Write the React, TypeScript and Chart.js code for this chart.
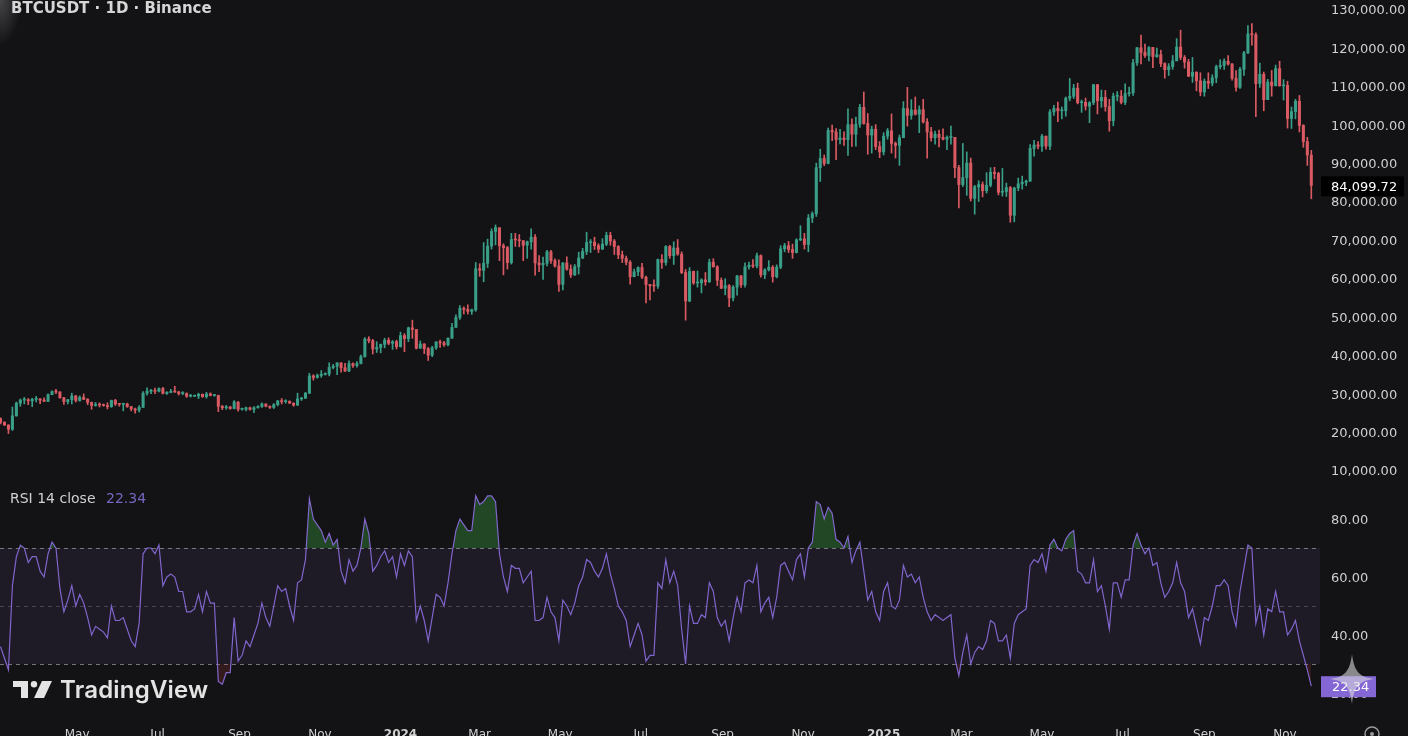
import React, { useEffect, useRef } from "react";
import { Chart, registerables } from "chart.js";

Chart.register(...registerables);

// Day 0 = 2023-03-01. One candle every 3 days (centre day = FIRST_DAY + i * STEP_DAYS).
const FIRST_DAY = 3;
const STEP_DAYS = 3;

// Prices in thousands of USDT
const opens = [
  23.4, 22.4, 21.7, 20.6, 24.1, 27.4, 28.2, 28.3, 28.0, 28.4,
  28.5, 28.2, 27.9, 29.6, 30.4, 30.3, 28.8, 27.8, 28.3, 29.3,
  28.1, 28.9, 28.4, 27.6, 26.8, 27.0, 26.9, 26.8, 26.5, 28.1,
  27.2, 27.1, 27.2, 26.5, 25.9, 25.6, 26.3, 30.0, 30.5, 30.7,
  30.5, 31.2, 29.9, 30.2, 30.4, 30.3, 29.9, 29.9, 29.2, 29.2,
  29.3, 29.7, 29.1, 29.8, 29.4, 29.4, 26.6, 26.2, 26.4, 26.0, 27.7,
  25.8, 25.8, 26.2, 25.8, 26.2, 26.5, 27.2, 26.6, 26.3, 27.0,
  28.0, 27.8, 27.9, 27.4, 26.9, 28.5, 28.7, 30.0, 34.5, 34.1,
  34.6, 34.9, 35.0, 36.7, 37.0, 37.9, 36.6, 35.8, 37.7, 37.2,
  37.7, 39.5, 44.1, 43.7, 41.5, 41.9, 42.7, 43.8, 43.0, 43.4,
  42.1, 45.0, 44.2, 47.0, 46.6, 41.7, 42.8, 41.6, 39.9, 41.8, 43.3,
  43.1, 42.6, 44.3, 47.1, 49.7, 52.1, 51.8, 51.3, 51.7,
  62.4, 62.0, 63.8, 68.3, 72.1, 73.1, 68.4, 67.9, 64.0, 70.0, 69.9,
  69.7, 68.5, 69.4, 70.6, 63.9, 63.4, 63.8, 66.8, 64.5, 63.1,
  58.3, 63.9, 62.3, 60.8, 62.9, 65.2, 66.9, 69.2, 69.3, 68.4,
  67.5, 68.8, 71.1, 69.6, 68.2, 66.0, 65.1, 64.1, 60.3, 61.6,
  62.7, 60.2, 58.3, 58.0, 57.9, 64.8, 64.0, 68.2, 65.8, 67.8,
  66.2, 61.4, 54.0, 61.7, 58.7, 58.7, 59.5, 59.0, 64.1, 62.9, 59.4,
  57.3, 58.0, 54.8, 57.6, 60.5, 58.2, 62.9, 63.3, 63.1, 65.8,
  60.8, 62.1, 62.8, 60.3, 62.8, 67.6, 68.4, 67.4, 66.6, 69.9,
  70.2, 68.7, 75.6, 76.7, 88.7, 91.1, 89.8, 98.4, 98.0, 96.0,
  96.4, 96.0, 99.9, 97.4, 100.0, 104.4, 100.2, 97.2, 98.7, 94.2,
  92.8, 96.9, 98.3, 95.0, 94.5, 96.5, 104.1, 102.3, 103.7, 102.6, 103.8,
  100.6, 98.0, 96.5, 97.4, 96.6, 96.1, 96.6, 96.6, 88.7,
  84.3, 86.1, 89.9, 80.7, 83.7, 84.3, 82.7, 84.1, 87.5, 87.2,
  82.3, 82.5, 83.5, 76.3, 83.4, 84.5, 84.9, 85.2, 93.7, 94.6,
  94.3, 96.9, 94.3, 103.2, 104.1, 103.5, 103.5, 106.8, 107.3, 109.4, 105.6,
  105.7, 104.7, 105.6, 110.3, 106.1, 107.0, 104.6, 100.9, 107.3, 107.3,
  105.7, 108.0, 108.2, 116.0, 119.9, 118.7, 117.9, 120.0, 117.6, 118.1,
  115.8, 114.2, 115.0, 116.5, 120.1, 117.4, 116.2, 112.5, 113.5, 111.3,
  108.4, 111.2, 110.7, 112.1, 115.0, 115.3, 116.4, 115.7, 112.0, 109.6,
  114.3, 118.6, 123.5, 123.3, 110.6, 113.0, 106.4, 111.0, 110.0, 114.5, 110.0,
  110.1, 101.5, 103.3, 106.0, 99.7, 95.5, 92.0,
];

const highs = [
  23.6, 22.6, 21.8, 26.4, 27.7, 28.5, 28.9, 28.6, 28.7, 29.2,
  28.6, 28.8, 29.8, 30.6, 31.0, 30.4, 28.9, 28.4, 30.0, 29.4,
  29.3, 29.8, 28.6, 27.7, 27.6, 27.5, 27.2, 27.5, 28.2, 28.4,
  27.3, 27.4, 27.4, 26.6, 26.1, 26.8, 30.4, 31.4, 31.0, 31.3,
  31.4, 31.5, 30.4, 31.0, 31.8, 30.5, 30.4, 30.1, 29.7, 29.5,
  30.0, 29.8, 30.2, 30.1, 29.7, 29.5, 26.8, 26.8, 26.6, 28.1, 27.8,
  26.1, 26.4, 26.4, 26.5, 26.8, 27.5, 27.2, 26.7, 27.3, 28.1,
  28.6, 28.3, 28.0, 27.5, 30.0, 28.9, 30.2, 35.2, 34.8, 35.0,
  35.9, 35.3, 37.9, 37.5, 37.9, 37.9, 37.8, 38.4, 37.9, 38.2,
  39.9, 44.5, 44.7, 44.0, 43.4, 42.8, 44.3, 44.4, 43.7, 43.8,
  45.9, 45.5, 47.2, 49.0, 46.5, 43.6, 42.9, 41.9, 42.2, 43.4, 43.8,
  43.5, 44.4, 48.2, 50.4, 52.8, 52.5, 53.0, 51.9, 64.0,
  63.7, 69.2, 70.1, 72.8, 73.8, 72.4, 68.9, 68.2, 71.6, 71.6, 71.3,
  69.7, 69.6, 72.8, 71.3, 65.8, 65.4, 67.2, 67.2, 65.0, 64.7,
  64.0, 65.5, 63.4, 63.5, 66.7, 67.7, 71.9, 70.0, 70.6, 68.9,
  70.2, 71.9, 71.9, 70.0, 68.4, 67.0, 65.7, 64.5, 62.3, 62.9,
  63.8, 60.5, 58.3, 59.5, 64.9, 66.1, 68.4, 68.5, 69.4, 70.0,
  66.8, 62.2, 62.7, 61.8, 61.8, 59.8, 61.4, 64.9, 65.0, 63.2, 60.0,
  59.8, 58.3, 58.0, 60.7, 60.7, 63.9, 64.1, 64.8, 66.5, 66.0,
  62.4, 64.5, 63.2, 63.4, 68.4, 69.0, 69.5, 68.8, 70.2, 73.6,
  71.6, 76.5, 77.2, 89.9, 93.5, 92.0, 99.0, 99.8, 98.9, 98.7,
  98.0, 104.0, 101.4, 101.9, 105.2, 108.4, 102.8, 99.5, 99.9, 95.5,
  97.8, 98.9, 102.7, 95.4, 97.2, 105.9, 109.6, 106.4, 107.1, 104.8, 106.5,
  101.5, 99.2, 98.2, 98.5, 98.8, 97.0, 99.5, 96.6, 89.3,
  95.0, 92.8, 91.2, 84.1, 85.3, 85.0, 87.4, 88.7, 88.8, 87.5,
  88.5, 84.7, 83.8, 83.6, 86.0, 86.5, 85.5, 94.7, 95.8, 95.5,
  97.4, 96.9, 103.8, 104.9, 105.8, 104.5, 107.1, 111.9, 110.4, 110.7, 106.3,
  106.8, 105.9, 110.4, 110.4, 108.9, 108.8, 106.5, 108.1, 108.5, 108.8,
  110.5, 109.7, 116.9, 120.0, 123.2, 120.9, 120.2, 120.0, 119.8, 119.3,
  116.0, 115.8, 117.9, 122.3, 124.5, 117.9, 116.9, 117.4, 113.7, 113.4,
  111.8, 113.4, 112.9, 115.4, 116.8, 117.0, 117.9, 115.8, 114.0, 114.8,
  119.0, 125.7, 126.2, 123.8, 115.9, 113.6, 111.7, 114.0, 115.4, 116.4, 111.6,
  111.2, 104.5, 106.5, 107.5, 99.9, 96.6, 93.2,
];

const lows = [
  22.0, 21.6, 19.5, 20.3, 24.0, 26.6, 27.2, 27.0, 26.5, 27.7,
  27.3, 27.8, 27.8, 29.6, 29.9, 28.7, 27.1, 27.2, 27.2, 27.7,
  27.9, 28.3, 27.0, 25.8, 26.6, 26.4, 26.6, 25.9, 26.3, 26.8,
  26.6, 25.4, 26.3, 25.4, 24.8, 25.1, 26.3, 29.5, 29.9, 29.9,
  30.3, 29.8, 29.7, 30.1, 30.2, 29.5, 29.6, 28.9, 29.0, 29.1,
  28.6, 28.9, 28.7, 29.3, 29.2, 25.2, 25.7, 25.8, 25.8, 25.9, 25.3,
  25.6, 25.4, 25.6, 24.9, 26.1, 26.3, 26.4, 26.0, 26.0, 26.7,
  27.2, 27.4, 27.3, 26.6, 26.8, 28.1, 28.6, 29.9, 33.4, 33.9,
  34.1, 34.7, 34.5, 36.3, 34.8, 35.5, 35.6, 35.6, 36.7, 36.8,
  37.6, 39.4, 43.1, 40.2, 40.6, 40.5, 41.8, 42.6, 41.4, 41.5,
  42.0, 40.8, 43.4, 44.3, 41.5, 41.7, 40.3, 38.5, 39.5, 41.4, 41.9,
  42.2, 42.3, 44.3, 47.7, 49.2, 50.6, 50.6, 50.5, 51.3,
  60.4, 59.0, 62.7, 67.5, 68.6, 64.5, 60.8, 62.3, 63.6, 68.2, 68.1,
  64.5, 65.1, 67.5, 60.7, 61.6, 59.6, 63.1, 63.8, 62.8, 56.5,
  56.9, 62.0, 60.1, 60.6, 61.0, 65.0, 66.1, 66.6, 67.4, 66.6,
  67.4, 68.4, 68.5, 66.1, 65.0, 64.0, 63.4, 58.4, 60.3, 60.6,
  59.8, 53.5, 54.3, 56.5, 57.3, 62.5, 63.3, 65.1, 63.5, 65.9,
  61.1, 49.0, 53.8, 58.3, 57.6, 56.1, 58.1, 58.8, 62.8, 58.0, 57.2,
  55.6, 52.5, 54.0, 55.5, 57.5, 57.6, 62.3, 62.7, 62.6, 60.2,
  59.8, 61.8, 58.9, 60.0, 62.4, 66.8, 66.6, 65.1, 66.5, 69.7,
  67.5, 66.8, 74.4, 76.0, 85.1, 89.2, 89.7, 95.7, 90.8, 94.9,
  94.5, 91.9, 94.2, 94.3, 99.2, 100.0, 92.2, 92.5, 93.4, 91.3,
  92.0, 96.1, 92.5, 91.2, 89.3, 96.5, 99.5, 101.3, 102.4, 97.8, 100.3,
  91.2, 95.6, 94.8, 94.1, 95.9, 93.4, 94.8, 86.1, 78.2,
  83.8, 81.5, 80.0, 76.6, 79.9, 81.1, 82.1, 83.7, 85.8, 81.6,
  81.3, 81.2, 74.5, 74.6, 82.7, 83.1, 84.0, 85.1, 91.7, 93.6,
  92.9, 93.5, 93.4, 102.3, 100.7, 101.4, 102.1, 106.1, 106.7, 105.3, 103.1,
  103.7, 100.4, 105.1, 102.7, 104.4, 103.4, 98.2, 99.6, 106.1, 105.3,
  105.1, 107.3, 107.5, 115.3, 115.7, 117.4, 116.5, 114.7, 117.4, 115.0,
  112.0, 112.7, 114.3, 116.5, 116.8, 114.6, 112.4, 110.9, 108.7, 107.4,
  107.3, 109.3, 110.0, 110.8, 114.4, 114.3, 115.4, 111.5, 108.6, 109.3,
  112.7, 118.4, 120.6, 102.0, 109.6, 103.5, 106.4, 107.3, 110.0, 109.9, 106.3,
  99.0, 98.9, 101.4, 98.0, 94.0, 89.3, 80.6,
];

const closes = [
  22.4, 21.7, 20.6, 24.1, 27.4, 28.2, 28.3, 28.0, 28.4, 28.5,
  28.2, 27.9, 29.6, 30.4, 30.3, 28.8, 27.8, 28.3, 29.3, 28.1,
  28.9, 28.4, 27.6, 26.8, 27.0, 26.9, 26.8, 26.5, 28.1, 27.2,
  27.1, 27.2, 26.5, 25.9, 25.6, 26.3, 30.0, 30.5, 30.7, 30.5,
  31.2, 29.9, 30.2, 30.4, 30.3, 29.9, 29.9, 29.2, 29.2, 29.3,
  29.7, 29.1, 29.8, 29.4, 29.4, 26.6, 26.2, 26.4, 26.0, 27.7, 25.8,
  25.8, 26.2, 25.8, 26.2, 26.5, 27.2, 26.6, 26.3, 27.0, 28.0,
  27.8, 27.9, 27.4, 26.9, 28.5, 28.7, 30.0, 34.5, 34.1, 34.6,
  34.9, 35.0, 36.7, 37.0, 37.9, 36.6, 35.8, 37.7, 37.2, 37.7,
  39.5, 44.1, 43.7, 41.5, 41.9, 42.7, 43.8, 43.0, 43.4, 42.1,
  45.0, 44.2, 47.0, 46.6, 41.7, 42.8, 41.6, 39.9, 41.8, 43.3, 43.1,
  42.6, 44.3, 47.1, 49.7, 52.1, 51.8, 51.3, 51.7, 62.4,
  62.0, 63.8, 68.3, 72.1, 73.1, 68.4, 67.9, 64.0, 70.0, 69.9, 69.7,
  68.5, 69.4, 70.6, 63.9, 63.4, 63.8, 66.8, 64.5, 63.1, 58.3,
  63.9, 62.3, 60.8, 62.9, 65.2, 66.9, 69.2, 69.3, 68.4, 67.5,
  68.8, 71.1, 69.6, 68.2, 66.0, 65.1, 64.1, 60.3, 61.6, 62.7,
  60.2, 58.3, 58.0, 57.9, 64.8, 64.0, 68.2, 65.8, 67.8, 66.2,
  61.4, 54.0, 61.7, 58.7, 58.7, 59.5, 59.0, 64.1, 62.9, 59.4, 57.3,
  58.0, 54.8, 57.6, 60.5, 58.2, 62.9, 63.3, 63.1, 65.8, 60.8,
  62.1, 62.8, 60.3, 62.8, 67.6, 68.4, 67.4, 66.6, 69.9, 70.2,
  68.7, 75.6, 76.7, 88.7, 91.1, 89.8, 98.4, 98.0, 96.0, 96.4,
  96.0, 99.9, 97.4, 100.0, 104.4, 100.2, 97.2, 98.7, 94.2, 92.8,
  96.9, 98.3, 95.0, 94.5, 96.5, 104.1, 102.3, 103.7, 102.6, 103.8, 100.6,
  98.0, 96.5, 97.4, 96.6, 96.1, 96.6, 96.6, 88.7, 84.3,
  86.1, 89.9, 80.7, 83.7, 84.3, 82.7, 84.1, 87.5, 87.2, 82.3,
  82.5, 83.5, 76.3, 83.4, 84.5, 84.9, 85.2, 93.7, 94.6, 94.3,
  96.9, 94.3, 103.2, 104.1, 103.5, 103.5, 106.8, 107.3, 109.4, 105.6, 105.7,
  104.7, 105.6, 110.3, 106.1, 107.0, 104.6, 100.9, 107.3, 107.3, 105.7,
  108.0, 108.2, 116.0, 119.9, 118.7, 117.9, 120.0, 117.6, 118.1, 115.8,
  114.2, 115.0, 116.5, 120.1, 117.4, 116.2, 112.5, 113.5, 111.3, 108.4,
  111.2, 110.7, 112.1, 115.0, 115.3, 116.4, 115.7, 112.0, 109.6, 114.3,
  118.6, 123.5, 123.3, 110.6, 113.0, 106.4, 111.0, 110.0, 114.5, 110.0, 110.1,
  101.5, 103.3, 106.0, 99.7, 95.5, 92.0, 84.09972,
];

const rsiValues = [
  36, 32, 28, 57, 67, 71, 70, 65, 67, 67,
  62, 60, 68, 72, 70, 56, 48, 52, 57, 50,
  54, 51, 46, 40, 43, 42, 41, 39, 50, 45,
  45, 46, 42, 38, 36, 44, 68, 70, 70, 68,
  71, 57, 60, 61, 60, 55, 55, 48, 48, 49,
  54, 48, 55, 51, 51, 24, 23, 27, 27, 46, 31,
  33, 38, 36, 40, 44, 51, 46, 43, 50, 57,
  55, 56, 50, 45, 58, 59, 66, 87, 80, 78,
  76, 72, 75, 71, 73, 62, 58, 66, 62, 64,
  70, 80, 75, 62, 64, 67, 69, 65, 67, 60,
  68, 64, 69, 67, 45, 50, 45, 38, 46, 54, 53,
  50, 58, 68, 76, 80, 78, 76, 76, 88,
  85, 86, 88, 88, 86, 68, 60, 55, 64, 63, 63,
  58, 60, 62, 45, 45, 46, 53, 48, 46, 38,
  52, 50, 47, 51, 57, 60, 66, 65, 62, 60,
  63, 68, 61, 56, 50, 48, 45, 36, 40, 44,
  40, 31, 33, 33, 58, 56, 66, 58, 62, 57,
  42, 30, 50, 44, 44, 47, 46, 58, 55, 46, 43,
  45, 38, 46, 53, 48, 58, 59, 58, 64, 48,
  51, 53, 46, 53, 64, 65, 62, 59, 66, 68,
  60, 70, 72, 86, 85, 80, 84, 82, 73, 72,
  70, 74, 65, 69, 72, 62, 52, 55, 48, 45,
  55, 58, 50, 49, 52, 64, 60, 61, 58, 60, 53,
  48, 45, 47, 46, 45, 46, 47, 32, 26,
  34, 40, 30, 34, 36, 35, 38, 45, 44, 38,
  38, 40, 32, 44, 47, 48, 49, 64, 66, 65,
  68, 62, 71, 73, 70, 69, 73, 75, 76, 62, 61,
  58, 58, 66, 55, 57, 50, 42, 58, 58, 53,
  59, 59, 71, 75, 71, 68, 70, 64, 65, 58,
  53, 55, 58, 65, 58, 55, 46, 49, 43, 37,
  46, 45, 50, 57, 57, 59, 57, 48, 43, 55,
  63, 71, 70, 44, 50, 40, 49, 48, 55, 48, 48,
  40, 42, 45, 38, 33, 28, 22.34,
];

// Month ticks (day index from 2023-03-01) and their labels
const tickDays = [61, 122, 184, 245, 306, 366, 427, 488, 550, 611, 672, 731, 792, 853, 915, 976];
const tickLabels = ["May", "Jul", "Sep", "Nov", "2024", "Mar", "May", "Jul", "Sep", "Nov", "2025", "Mar", "May", "Jul", "Sep", "Nov"];
const priceTicks = [10, 20, 30, 40, 50, 60, 70, 80, 90, 100, 110, 120, 130];
const rsiTicks = [20, 40, 60, 80];
const RSI_UPPER = 70;
const RSI_MID = 50;
const RSI_LOWER = 30;

const X_MIN = 2.6;
const X_MAX = 1002.6;
const PRICE_MIN = 6.1;
const PRICE_MAX = 132.343;
const RSI_MIN = 13.45;
const RSI_MAX = 91.72;

const BG = "#131315";
const UP = "#3a9f88";
const DOWN = "#d95a62";
const RSI_COLOR = "#8166cc";
const AXIS_TEXT = "#d0d0d0";
const AXIS_FONT = "DejaVu Sans";

const fmtPrice = (k: number) =>
  (k * 1000).toLocaleString("en-US", { minimumFractionDigits: 2, maximumFractionDigits: 2 });

const lastPricePlugin = {
  id: "lastPrice",
  afterDraw(chart: any) {
    const y = chart.scales.y.getPixelForValue(closes[closes.length - 1]);
    const ctx = chart.ctx;
    const left = chart.chartArea.right + 1;
    ctx.save();
    ctx.fillStyle = "#000000";
    ctx.fillRect(left, y - 9, 83, 20);
    ctx.fillStyle = "#ffffff";
    ctx.font = `13px "${AXIS_FONT}"`;
    ctx.textBaseline = "middle";
    ctx.textAlign = "left";
    ctx.fillText(fmtPrice(closes[closes.length - 1]), left + 10, y + 2);
    ctx.restore();
  },
};

const rsiBandPlugin = {
  id: "rsiBand",
  beforeDatasetsDraw(chart: any) {
    const { ctx, chartArea } = chart;
    const ys = chart.scales.y;
    const yU = ys.getPixelForValue(RSI_UPPER);
    const yL = ys.getPixelForValue(RSI_LOWER);
    const yM = ys.getPixelForValue(RSI_MID);
    ctx.save();
    ctx.fillStyle = "rgba(126,87,194,0.10)";
    ctx.fillRect(chartArea.left, yU, chartArea.right - chartArea.left, yL - yU);
    ctx.lineWidth = 1;
    ctx.setLineDash([4, 4]);
    ctx.strokeStyle = "rgba(150,150,160,0.75)";
    for (const y of [yU, yL]) {
      ctx.beginPath();
      ctx.moveTo(chartArea.left, Math.round(y) + 0.5);
      ctx.lineTo(chartArea.right, Math.round(y) + 0.5);
      ctx.stroke();
    }
    ctx.strokeStyle = "rgba(120,120,130,0.45)";
    ctx.beginPath();
    ctx.moveTo(chartArea.left, Math.round(yM) + 0.5);
    ctx.lineTo(chartArea.right, Math.round(yM) + 0.5);
    ctx.stroke();
    ctx.restore();
  },
  afterDraw(chart: any) {
    const v = rsiValues[rsiValues.length - 1];
    const y = chart.scales.y.getPixelForValue(v);
    const ctx = chart.ctx;
    const left = chart.chartArea.right + 1;
    ctx.save();
    ctx.fillStyle = "#8466d4";
    ctx.fillRect(left, y - 10, 55, 21);
    ctx.fillStyle = "#ffffff";
    ctx.font = `13px "${AXIS_FONT}"`;
    ctx.textBaseline = "middle";
    ctx.textAlign = "left";
    ctx.fillText(v.toFixed(2), left + 11, y + 1);
    ctx.restore();
  },
};

export default function App() {
  const priceRef = useRef<HTMLCanvasElement | null>(null);
  const rsiRef = useRef<HTMLCanvasElement | null>(null);

  useEffect(() => {
    const days = closes.map((_, i) => FIRST_DAY + i * STEP_DAYS);
    const colors = closes.map((c, i) => (c >= opens[i] ? UP : DOWN));

    const priceChart = new Chart(priceRef.current as HTMLCanvasElement, {
      type: "bar",
      data: {
        datasets: [
          {
            data: days.map((d, i) => ({ x: d, y: [lows[i], highs[i]] })) as any,
            backgroundColor: colors,
            barThickness: 1,
            grouped: false,
            order: 2,
          } as any,
          {
            data: days.map((d, i) => ({ x: d, y: [opens[i], closes[i]] })) as any,
            backgroundColor: colors,
            barThickness: 2.4,
            minBarLength: 1,
            grouped: false,
            order: 1,
          } as any,
        ],
      },
      options: {
        animation: false,
        responsive: false,
        events: [],
        layout: { padding: 0 },
        plugins: { legend: { display: false }, tooltip: { enabled: false } },
        scales: {
          x: { type: "linear", min: X_MIN, max: X_MAX, display: false, offset: false, bounds: "data" } as any,
          y: {
            type: "linear",
            position: "right",
            min: PRICE_MIN,
            max: PRICE_MAX,
            bounds: "data",
            grid: { display: false, drawTicks: false },
            border: { display: false },
            afterBuildTicks: (s: any) => {
              s.ticks = priceTicks.map((v) => ({ value: v }));
            },
            afterFit: (s: any) => {
              s.width = 88;
              s.paddingTop = 0;
              s.paddingBottom = 0;
            },
            ticks: {
              color: AXIS_TEXT,
              font: { family: AXIS_FONT, size: 13 },
              padding: 11,
              labelOffset: 2,
              callback: (v: any) => fmtPrice(Number(v)),
            },
          } as any,
        },
      },
      plugins: [lastPricePlugin],
    });

    const rsiPoints = rsiValues.map((v, i) => ({ x: days[i], y: v }));
    const rsiChart = new Chart(rsiRef.current as HTMLCanvasElement, {
      type: "line",
      data: {
        datasets: [
          {
            data: rsiPoints,
            borderColor: RSI_COLOR,
            borderWidth: 1.2,
            pointRadius: 0,
            tension: 0,
            fill: { target: { value: RSI_UPPER }, above: "rgba(56,142,60,0.42)", below: "rgba(0,0,0,0)" },
          } as any,
          {
            data: rsiPoints,
            borderColor: "rgba(0,0,0,0)",
            borderWidth: 1,
            pointRadius: 0,
            tension: 0,
            fill: { target: { value: RSI_LOWER }, above: "rgba(0,0,0,0)", below: "rgba(200,60,60,0.18)" },
          } as any,
        ],
      },
      options: {
        animation: false,
        responsive: false,
        events: [],
        layout: { padding: 0 },
        plugins: { legend: { display: false }, tooltip: { enabled: false } },
        scales: {
          x: {
            type: "linear",
            min: X_MIN,
            max: X_MAX,
            bounds: "data",
            offset: false,
            grid: { display: false, drawTicks: false },
            border: { display: false },
            afterBuildTicks: (s: any) => {
              s.ticks = tickDays.map((v) => ({ value: v }));
            },
            afterFit: (s: any) => {
              s.height = 38;
              s.paddingLeft = 0;
              s.paddingRight = 0;
            },
            ticks: {
              autoSkip: false,
              maxRotation: 0,
              minRotation: 0,
              padding: 16,
              color: AXIS_TEXT,
              font: (ctx: any) => ({
                family: AXIS_FONT,
                size: 12,
                weight: /^\d{4}$/.test(tickLabels[ctx.index] || "") ? "bold" : "normal",
              }),
              callback: (_v: any, i: number) => tickLabels[i],
            },
          } as any,
          y: {
            type: "linear",
            position: "right",
            min: RSI_MIN,
            max: RSI_MAX,
            bounds: "data",
            grid: { display: false, drawTicks: false },
            border: { display: false },
            afterBuildTicks: (s: any) => {
              s.ticks = rsiTicks.map((v) => ({ value: v }));
            },
            afterFit: (s: any) => {
              s.width = 88;
              s.paddingTop = 0;
              s.paddingBottom = 0;
            },
            ticks: {
              color: AXIS_TEXT,
              font: { family: AXIS_FONT, size: 13 },
              padding: 11,
              labelOffset: 2,
              callback: (v: any) => Number(v).toFixed(2),
            },
          } as any,
        },
      },
      plugins: [rsiBandPlugin],
    });

    return () => {
      priceChart.destroy();
      rsiChart.destroy();
    };
  }, []);

  return (
    <div
      style={{
        position: "fixed",
        left: 0,
        top: 0,
        width: 1408,
        height: 736,
        background: BG,
        overflow: "hidden",
      }}
    >
      <div
        style={{
          position: "absolute",
          left: 0,
          top: 0,
          width: 22,
          height: 46,
          background: "radial-gradient(ellipse at 0 0, rgba(200,200,205,0.28), rgba(200,200,205,0) 70%)",
        }}
      />
      <canvas
        ref={priceRef}
        width={1408}
        height={485}
        style={{ position: "absolute", left: 0, top: 0, width: 1408, height: 485 }}
      />
      <canvas
        ref={rsiRef}
        width={1408}
        height={265}
        style={{ position: "absolute", left: 0, top: 485, width: 1408, height: 265 }}
      />
      <div
        style={{
          position: "absolute",
          left: 11,
          top: -1,
          fontFamily: AXIS_FONT,
          fontWeight: "bold",
          fontSize: 15,
          lineHeight: "18px",
          color: "#d6d6d6",
          whiteSpace: "nowrap",
        }}
      >
        BTCUSDT · 1D · Binance
      </div>
      <div
        style={{
          position: "absolute",
          left: 10,
          top: 490,
          fontFamily: AXIS_FONT,
          fontSize: 14,
          lineHeight: "16px",
          color: "#d0d0d0",
          whiteSpace: "nowrap",
        }}
      >
        RSI 14 close <span style={{ color: "#7566c0", marginLeft: 6 }}>22.34</span>
      </div>
      <svg
        width={40}
        height={18}
        viewBox="0 0 40 18"
        style={{ position: "absolute", left: 13, top: 681 }}
      >
        <path d="M0 0 H15 V17 H8 V6 H0 Z" fill="#e4e4e4" />
        <circle cx={21} cy={3.2} r={3.2} fill="#e4e4e4" />
        <path d="M29 0 H39 L31 17 H21 Z" fill="#e4e4e4" />
      </svg>
      <div
        style={{
          position: "absolute",
          left: 60,
          top: 675,
          fontFamily: "Inter",
          fontWeight: 600,
          fontSize: 24,
          lineHeight: "30px",
          color: "#e4e4e4",
          letterSpacing: 0.2,
          whiteSpace: "nowrap",
        }}
      >
        TradingView
      </div>
      <svg
        width={60}
        height={60}
        viewBox="-30 -30 60 60"
        style={{ position: "absolute", left: 1322, top: 649 }}
      >
        <path
          d="M0 -25 C2 -8 7 -2 22 0 C7 2 2 8 0 25 C-2 8 -7 2 -22 0 C-7 -2 -2 -8 0 -25 Z"
          fill="rgba(215,215,222,0.6)"
        />
      </svg>
      <svg width={20} height={20} style={{ position: "absolute", left: 1362, top: 724 }}>
        <circle cx={10} cy={10} r={7} fill="none" stroke="#9a9a9a" strokeWidth={1.5} />
        <circle cx={10} cy={10} r={2} fill="#9a9a9a" />
      </svg>
    </div>
  );
}
